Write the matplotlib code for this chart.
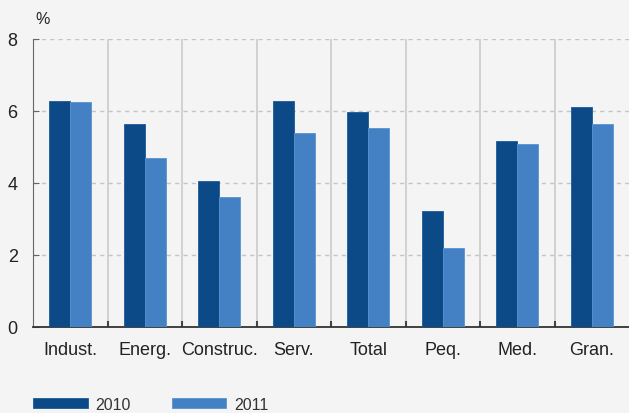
import numpy as np
import matplotlib.pyplot as plt

plt.rcParams['font.family'] = ['Liberation Sans', 'DejaVu Sans']

categories = ["Indust.", "Energ.", "Construc.", "Serv.", "Total", "Peq.", "Med.", "Gran."]
vals_2010 = [6.28, 5.64, 4.06, 6.28, 5.97, 3.22, 5.17, 6.11]
vals_2011 = [6.24, 4.69, 3.61, 5.39, 5.53, 2.19, 5.08, 5.64]
series_names = ["2010", "2011"]

bg = "#f4f4f4"
dark = "#0b4a87"
light = "#4380c4"

fig = plt.figure(figsize=(6.29, 4.14), dpi=100, facecolor=bg)
ax = fig.add_axes([33/629, 86/414, 596/629, 288/414], facecolor=bg)

x = np.arange(len(categories))
w = 0.28
b1 = ax.bar(x - w/2, vals_2010, w, color=dark, edgecolor="#1a5a9a", linewidth=0.6, zorder=3, label=series_names[0])
b2 = ax.bar(x + w/2, vals_2011, w, color=light, edgecolor="#5a93cf", linewidth=0.6, zorder=3, label=series_names[1])

ax.set_xlim(-0.5, len(categories) - 0.5)
ax.set_ylim(0, 8)
ax.set_yticks([0, 2, 4, 6, 8])

# grid
for yv in [2, 4, 6, 8]:
    ax.axhline(yv, color="#c4c4c4", lw=1, ls=(0, (3, 3)), zorder=1)
for xv in np.arange(0.5, len(categories) - 0.5, 1):
    ax.axvline(xv, color="#cacaca", lw=1.2, zorder=1)

for s in ["top", "right"]:
    ax.spines[s].set_visible(False)
ax.spines["left"].set_color("#666666")
ax.spines["bottom"].set_color("#333333")
ax.spines["bottom"].set_linewidth(1.3)

ax.set_xticks(x)
ax.set_xticklabels(categories, fontsize=13, color="#222222")
ax.tick_params(axis="x", length=0, pad=10)
ax.set_xticks(np.arange(0.5, len(categories) - 0.5, 1), minor=True)
ax.tick_params(axis="x", which="minor", direction="in", length=4, width=1.5, color="#444444")
ax.tick_params(axis="y", direction="in", length=4, color="#666666", labelsize=13, labelcolor="#222222", pad=11)

fig.text(35/629, 1 - 19/414, "%", fontsize=11.5, color="#222222", va="center", ha="left")

fig.legend(handles=[b1, b2], labels=series_names, loc="lower left",
           bbox_to_anchor=(19/629, -13/414), ncol=2, frameon=False,
           handlelength=3.4, handleheight=0.6, columnspacing=2.55,
           handletextpad=0.5, fontsize=11.5, labelcolor="#333333")

fig.savefig("out.png", dpi=100, facecolor=bg)
